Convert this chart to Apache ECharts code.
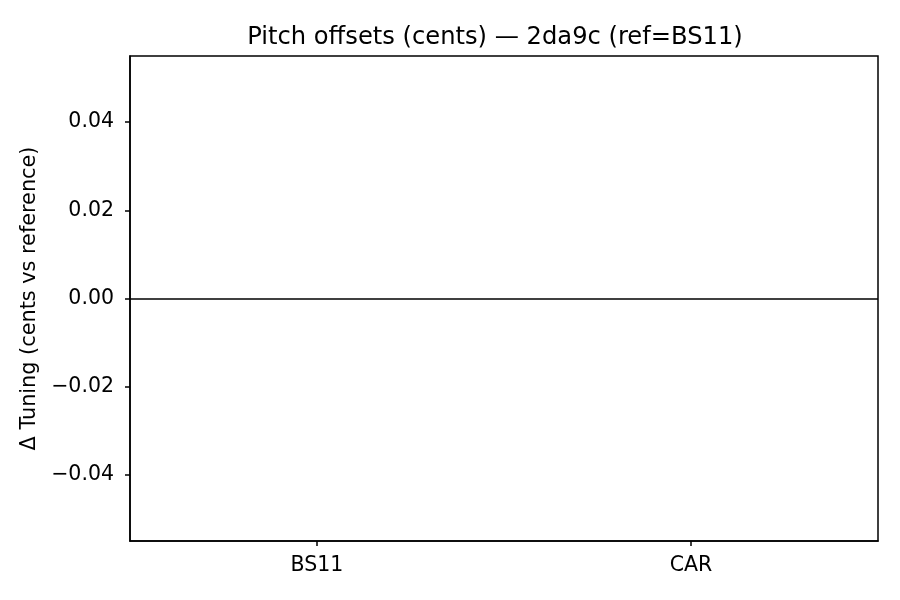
<!DOCTYPE html>
<html>
<head>
<meta charset="utf-8">
<script src="https://cdn.jsdelivr.net/npm/echarts@6/dist/echarts.min.js"></script>
<style>
html,body{margin:0;padding:0;background:#fff;}
#chart{width:900px;height:600px;}
</style>
</head>
<body>
<div id="chart"></div>
<script>
const categories = ['BS11', 'CAR'];
const offsets = [0, 0];
const yTicks = [-0.04, -0.02, 0, 0.02, 0.04];
const yMin = -0.055;
const yMax = 0.055;
const zeroLine = 0;

const fmt = v => v.toFixed(2).replace('-', '\u2212');
const chart = echarts.init(document.getElementById('chart'));
chart.setOption({
  animation: false,
  backgroundColor: '#fff',
  textStyle: { fontFamily: 'DejaVu Sans' },
  title: {
    text: 'Pitch offsets (cents) \u2014 2da9c (ref=BS11)',
    left: 490, top: 21, textAlign: 'center',
    textStyle: { fontFamily: 'DejaVu Sans', fontSize: 24.2, fontWeight: 'normal', color: '#000' }
  },
  grid: {
    left: 130, right: 22, top: 56, bottom: 59,
    show: true, borderColor: '#000', borderWidth: 1.5, backgroundColor: 'transparent'
  },
  xAxis: {
    type: 'category',
    data: categories,
    boundaryGap: true,
    axisLine: { show: true, onZero: false, lineStyle: { color: '#000', width: 1.5 } },
    axisTick: { show: true, alignWithLabel: true, length: 5, lineStyle: { color: '#000', width: 1.5 } },
    axisLabel: { color: '#000', fontSize: 20.5, margin: 14, fontFamily: 'DejaVu Sans' },
    splitLine: { show: false }
  },
  yAxis: {
    type: 'value',
    min: yMin, max: yMax,
    name: '\u0394 Tuning (cents vs reference)',
    nameLocation: 'middle',
    nameGap: 86,
    nameTextStyle: { color: '#000', fontSize: 20.8, fontFamily: 'DejaVu Sans' },
    axisLine: { show: true, onZero: false, lineStyle: { color: '#000', width: 1.5 } },
    axisTick: { show: true, length: 5, inside: false, customValues: yTicks, lineStyle: { color: '#000', width: 1.5 } },
    axisLabel: { color: '#000', fontSize: 20.5, margin: 16, customValues: yTicks, formatter: fmt, fontFamily: 'DejaVu Sans' },
    splitLine: { show: false }
  },
  series: [{
    type: 'bar',
    data: offsets,
    barWidth: '80%',
    itemStyle: { color: '#1f77b4' },
    markLine: {
      silent: true,
      symbol: 'none',
      label: { show: false },
      lineStyle: { color: '#000', width: 1.6, type: 'solid' },
      data: [{ yAxis: zeroLine }]
    }
  }]
});
</script>
</body>
</html>
